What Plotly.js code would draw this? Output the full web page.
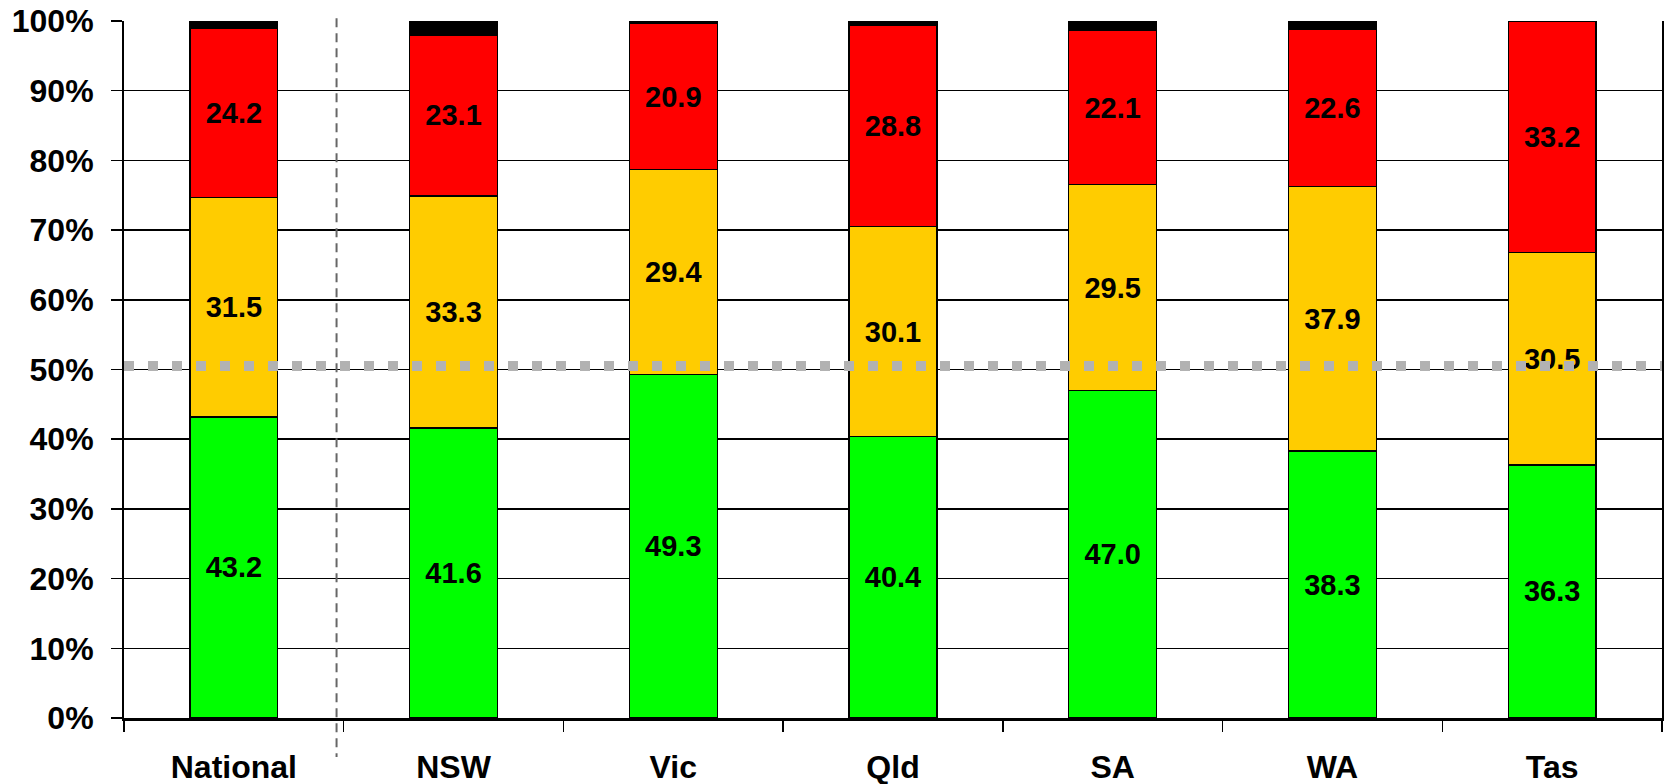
<!DOCTYPE html>
<html>
<head>
<meta charset="utf-8">
<script src="https://cdn.plot.ly/plotly-3.0.1.min.js"></script>
<style>
  html, body { margin: 0; padding: 0; background: #fff; }
  #chart { width: 1667px; height: 784px; }
</style>
</head>
<body>
<div id="chart"></div>
<script>
const categories = ['National', 'NSW', 'Vic', 'Qld', 'SA', 'WA', 'Tas'];
const greenValues = [43.2, 41.6, 49.3, 40.4, 47.0, 38.3, 36.3];
const amberValues = [31.5, 33.3, 29.4, 30.1, 29.5, 37.9, 30.5];
const redValues = [24.2, 23.1, 20.9, 28.8, 22.1, 22.6, 33.2];
const blackValues = [1.1, 2.0, 0.5, 0.7, 1.4, 1.2, 0.0];
const yTickValues = [0, 10, 20, 30, 40, 50, 60, 70, 80, 90, 100];
const yTickLabels = ['0%', '10%', '20%', '30%', '40%', '50%', '60%', '70%', '80%', '90%', '100%'];
const referenceLevel = 50.5;

const fontFamily = 'Arial, "Liberation Sans", sans-serif';

function barTrace(values, color, showText) {
  return {
    type: 'bar',
    x: categories,
    y: values,
    marker: { color: color, line: { color: '#000', width: 1.2 } },
    text: showText ? values.map(v => v.toFixed(1)) : undefined,
    textposition: showText ? 'inside' : 'none',
    insidetextanchor: 'middle',
    textangle: 0,
    constraintext: 'none',
    textfont: { family: fontFamily, size: 29, color: '#000', weight: 'bold' },
    hoverinfo: 'skip',
    showlegend: false
  };
}

const data = [
  barTrace(greenValues, '#00FF00', true),
  barTrace(amberValues, '#FFCC00', true),
  barTrace(redValues, '#FF0000', true),
  barTrace(blackValues, '#000000', false)
];

const layout = {
  width: 1667,
  height: 784,
  margin: { l: 124, r: 5, t: 21, b: 66, pad: 0 },
  barmode: 'stack',
  bargap: 0.6,
  paper_bgcolor: '#fff',
  plot_bgcolor: '#fff',
  font: { family: fontFamily, color: '#000' },
  xaxis: {
    type: 'category',
    range: [-0.5, 6.5],
    fixedrange: true,
    tickson: 'boundaries',
    ticks: 'outside',
    ticklen: 11,
    tickwidth: 1.5,
    tickcolor: '#000',
    showline: true,
    linecolor: '#000',
    linewidth: 2.5,
    showgrid: false,
    zeroline: false,
    ticklabelstandoff: 19,
    tickfont: { family: fontFamily, size: 32, color: '#000', weight: 'bold' }
  },
  yaxis: {
    range: [0, 100],
    fixedrange: true,
    tickmode: 'array',
    tickvals: yTickValues,
    ticktext: yTickLabels,
    ticks: 'outside',
    ticklen: 11,
    tickwidth: 1.5,
    tickcolor: '#000',
    showline: true,
    mirror: true,
    linecolor: '#000',
    linewidth: 2,
    showgrid: true,
    gridcolor: '#000',
    gridwidth: 1.5,
    zeroline: false,
    ticklabelstandoff: 11,
    tickfont: { family: fontFamily, size: 32, color: '#000', weight: 'bold' }
  },
  shapes: [
    {
      type: 'line', xref: 'paper', yref: 'y',
      x0: 0, x1: 1, y0: referenceLevel, y1: referenceLevel,
      line: { color: '#B2B2B2', width: 10, dash: '10px,14px' },
      layer: 'above'
    },
    {
      type: 'line', xref: 'paper', yref: 'paper',
      x0: 0.1382, x1: 0.1382, y0: 1.004, y1: -0.056,
      line: { color: '#666666', width: 2, dash: '9px,6px' },
      layer: 'above'
    }
  ]
};

Plotly.newPlot('chart', data, layout, { displayModeBar: false, staticPlot: true });
</script>
</body>
</html>
